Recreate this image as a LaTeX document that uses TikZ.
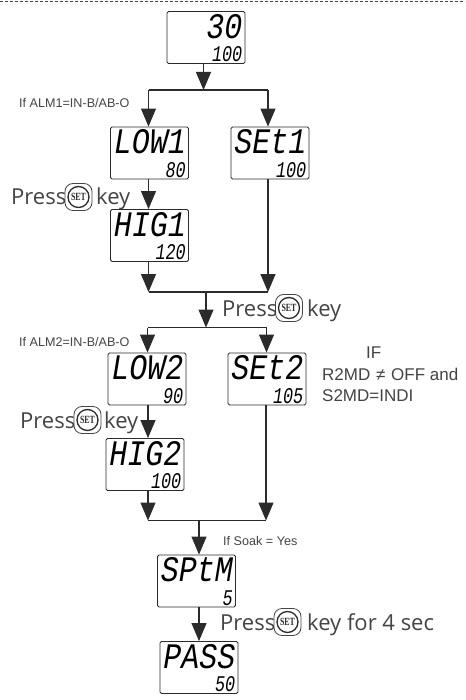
\documentclass[tikz,border=0pt]{standalone}
\usepackage{fontspec}
\usepackage{graphicx}
\usetikzlibrary{arrows.meta}
\setmainfont{Open Sans}
\newfontfamily\lcdfont{Liberation Mono}
\newfontfamily\armfont{Liberation Sans}
\newfontfamily\keyfont{Liberation Serif}
\definecolor{ink}{HTML}{2B2B2B}
\definecolor{soft}{HTML}{444444}
\tikzset{
  x=1pt,y=-1pt,
  dispbox/.style={draw=ink,line width=.9pt,rounded corners=1.5pt,minimum width=78pt,minimum height=52pt,inner sep=0pt,fill=white},
  lcdbig/.style={anchor=north east,inner sep=0pt,text=black,font=\lcdfont\itshape\fontsize{27}{27}\selectfont},
  lcdsmall/.style={anchor=south east,inner sep=0pt,text=black,font=\lcdfont\itshape\fontsize{16}{16}\selectfont},
  flow/.style={draw=ink,line width=1.1pt},
  flowarrow/.style={flow,-{Triangle[length=18pt,width=15pt]}},
  press/.style={inner sep=0pt,anchor=base west,text=soft,font=\fontsize{22}{24}\selectfont},
  note/.style={inner sep=0pt,anchor=base west,text=soft,font=\armfont\fontsize{12.6}{14}\selectfont},
  cond/.style={inner sep=0pt,anchor=base west,text=soft,font=\armfont\fontsize{17}{19}\selectfont},
  keyouter/.style={draw=soft,line width=.8pt,rounded corners=8pt,minimum size=27pt,inner sep=0pt},
  keyinner/.style={draw=ink,line width=1.3pt,circle,minimum size=21pt,inner sep=0pt,font=\keyfont\bfseries\fontsize{11}{11}\selectfont,text=ink},
}
\newcommand{\bigy}{1.33}
\newcommand{\lcdbox}[5]{% name, centre x, centre y, big text, small text
  \node[dispbox] (#1) at (#2,#3) {};
  \node[lcdbig] (#1big) at ([xshift=-3pt,yshift=-3pt]#1.north east) {\scalebox{1.11}[\bigy]{#4}};
  \node[lcdsmall] (#1small) at ([xshift=-3pt,yshift=2pt]#1.south east) {\scalebox{1.05}[1.4]{#5}};
}
\newcommand{\setkey}[3]{% name, x, y
  \node[keyouter] (#1) at (#2,#3) {};
  \node[keyinner] (#1t) at (#1.center) {\scalebox{.72}[1]{SET}};
}
\begin{document}
\begin{tikzpicture}
\useasboundingbox (0,0) rectangle (465,700);
\fill[white] (0,0) rectangle (465,700);
\coordinate (dl) at (0,1); \coordinate (dr) at (465,1);
\draw[soft,line width=.9pt,dash pattern=on 2.5pt off 2.5pt] (dl) -- (dr);

\lcdbox{top}{206}{37.5}{30}{100}
\lcdbox{low1}{149.5}{153}{LOW1}{80}
\lcdbox{set1}{270}{153}{SEt1}{100}
\lcdbox{hig1}{149.5}{235.5}{HIG1}{120}
\lcdbox{low2}{147}{379}{LOW2}{90}
\lcdbox{set2}{267}{379}{SEt2}{105}
\lcdbox{hig2}{145}{464.5}{HIG2}{100}
\lcdbox{sptm}{196.5}{581}{SPtM}{5}
\lcdbox{pass}{199}{667.5}{PASS}{50}

\coordinate (s1) at (203.5,90);
\coordinate (s1l) at (148.5,90);
\coordinate (s1r) at (268,90);
\coordinate (m1l) at (148.5,292);
\coordinate (m1r) at (268,292);
\coordinate (m1c) at (206,292);
\coordinate (s2) at (206,327.5);
\coordinate (s2l) at (147.5,327.5);
\coordinate (s2r) at (266.5,327.5);
\coordinate (m2l) at (148,520.5);
\coordinate (m2r) at (266,520.5);
\coordinate (m2c) at (199,520.5);

\draw[flowarrow] (s1 |- top.south) -- (s1);
\draw[flow] (s1l) -- (s1r);
\draw[flowarrow] (s1l) -- (s1l |- low1.north);
\draw[flowarrow] (s1r) -- (s1r |- set1.north);
\draw[flowarrow] (s1l |- low1.south) -- (s1l |- hig1.north);
\draw[flowarrow] (m1l |- hig1.south) -- (m1l);
\draw[flowarrow] (m1r |- set1.south) -- (m1r);
\draw[flow] (m1l) -- (m1r);
\draw[flowarrow] (m1c) -- (s2);
\draw[flow] (s2l) -- (s2r);
\draw[flowarrow] (s2l) -- (s2l |- low2.north);
\draw[flowarrow] (s2r) -- (s2r |- set2.north);
\draw[flowarrow] (m2l |- low2.south) -- (m2l |- hig2.north);
\draw[flowarrow] (m2l |- hig2.south) -- (m2l);
\draw[flowarrow] (m2r |- set2.south) -- (m2r);
\draw[flow] (m2l) -- (m2r);
\draw[flowarrow] (m2c) -- (m2c |- sptm.north);
\draw[flowarrow] (m2c |- sptm.south) -- (m2c |- pass.north);

\node[note] (alm1) at (19,108) {If ALM1=IN-B/AB-O};
\node[note] (alm2) at (19,346) {If ALM2=IN-B/AB-O};
\node[note] (soak) at (223,545) {If Soak = Yes};

\node[press] (p1) at (11,205) {Press};
\setkey{k1}{78.5}{197}
\node[press] (kt1) at (96,205) {key};
\node[press] (p2) at (222,316) {Press};
\setkey{k2}{289}{308}
\node[press] (kt2) at (307,316) {key};
\node[press] (p3) at (20,428) {Press};
\setkey{k3}{87.5}{420}
\node[press] (kt3) at (104,428) {key};
\node[press] (p4) at (220,630) {Press};
\setkey{k4}{287.5}{622}
\node[press] (kt4) at (307,630) {key for 4 sec};

\node[cond] (c1) at (366,358) {IF};
\node[cond] (c2) at (322,380) {R2MD};
\node[cond] (c3) at (376,380) {≠};
\node[cond] (c4) at (391,380) {OFF and};
\node[cond] (c5) at (322,401) {S2MD=INDI};
\end{tikzpicture}
\end{document}
